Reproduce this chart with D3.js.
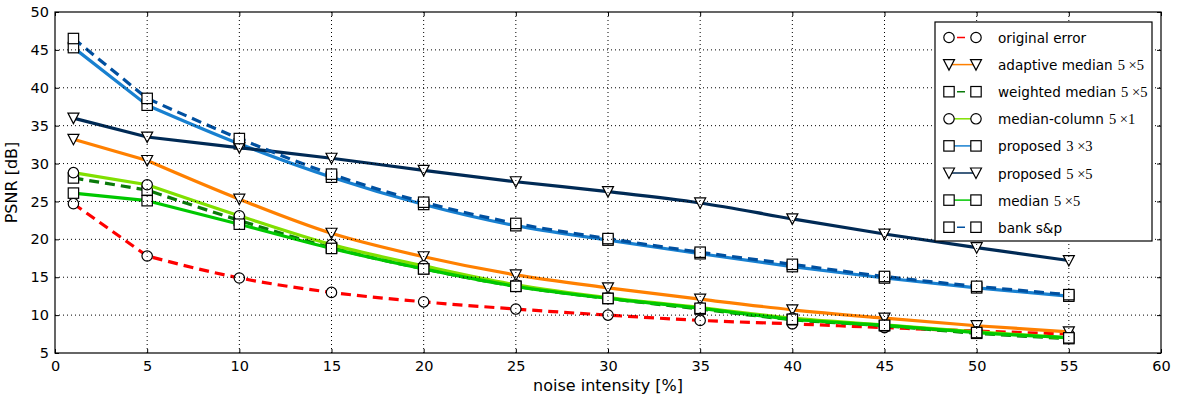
<html>
<head>
<meta charset="utf-8">
<script src="https://d3js.org/d3.v7.min.js"></script>
<style>
  body { margin: 0; background: #fff; }
  text { font-family: "DejaVu Sans", sans-serif; }
</style>
</head>
<body>
<svg id="chart" width="1178" height="399"></svg>
<script>

// noise levels where each filter was measured
var noise = [1, 5, 10, 15, 20, 25, 30, 35, 40, 45, 50, 55];

// PSNR values, one array per filter
var originalError   = [24.7, 17.8, 14.9, 13.0, 11.75, 10.8, 10.0, 9.3, 8.85, 8.35, 7.9, 7.5];
var adaptiveMedian  = [33.2, 30.4, 25.3, 20.8, 17.7, 15.3, 13.6, 12.1, 10.7, 9.6, 8.6, 7.8];
var weightedMedian  = [28.1, 26.5, 22.5, 18.9, 16.1, 13.8, 12.2, 10.8, 9.4, 8.6, 7.6, 6.9];
var medianColumn    = [28.8, 27.2, 23.1, 19.3, 16.5, 14.0, 12.3, 11.0, 9.6, 8.7, 7.8, 7.0];
var proposed3x3     = [45.3, 37.7, 32.6, 28.2, 24.6, 21.8, 19.9, 18.1, 16.4, 14.9, 13.6, 12.5];
var proposed5x5     = [36.0, 33.5, 32.1, 30.7, 29.1, 27.6, 26.3, 24.8, 22.7, 20.7, 18.9, 17.2];
var median5x5       = [26.1, 25.1, 22.0, 18.8, 16.1, 13.8, 12.2, 10.9, 9.45, 8.65, 7.7, 7.0];
var bankSP          = [46.5, 38.6, 33.3, 28.6, 24.9, 22.1, 20.1, 18.3, 16.7, 15.1, 13.8, 12.7];

var xTicks = [0, 5, 10, 15, 20, 25, 30, 35, 40, 45, 50, 55, 60];
var yTicks = [5, 10, 15, 20, 25, 30, 35, 40, 45, 50];

// series in drawing order: label, math suffix, values, style
var series = [
  {name: "original error",   mathPart: "",      values: originalError,  color: "#ff0000", dash: "10,6", marker: "circle"},
  {name: "adaptive median",  mathPart: "5 ×5",  values: adaptiveMedian, color: "#ff8000", dash: null,   marker: "tri"},
  {name: "weighted median",  mathPart: "5 ×5",  values: weightedMedian, color: "#0a7a0a", dash: "10,6", marker: "square"},
  {name: "median-column",    mathPart: "5 ×1",  values: medianColumn,   color: "#80e000", dash: null,   marker: "circle"},
  {name: "proposed",         mathPart: "3 ×3",  values: proposed3x3,    color: "#1880d0", dash: null,   marker: "square"},
  {name: "proposed",         mathPart: "5 ×5",  values: proposed5x5,    color: "#002a55", dash: null,   marker: "tri"},
  {name: "median",           mathPart: "5 ×5",  values: median5x5,      color: "#00c800", dash: null,   marker: "square"},
  {name: "bank s&p",         mathPart: "",      values: bankSP,         color: "#0050a0", dash: "10,6", marker: "square"}
];

var svg = d3.select("#chart");

// plot box edges (names avoid the window.top global)
var plotLeft = 55, plotRight = 1161, plotTop = 12, plotBottom = 353;

var x = d3.scaleLinear().domain([0, 60]).range([plotLeft, plotRight]);
var y = d3.scaleLinear().domain([5, 50]).range([plotBottom, plotTop]);

// draws one marker of a given kind centred at cx, cy
var drawMarker = function(g, kind, cx, cy) {
  if (kind === "circle") {
    g.append("circle").attr("cx", cx).attr("cy", cy).attr("r", 5.2)
      .attr("fill", "#fff").attr("stroke", "#000").attr("stroke-width", 1.2);
  } else if (kind === "square") {
    g.append("rect").attr("x", cx - 5.2).attr("y", cy - 5.2).attr("width", 10.4).attr("height", 10.4)
      .attr("fill", "#fff").attr("stroke", "#000").attr("stroke-width", 1.2);
  } else {
    g.append("path")
      .attr("d", "M" + (cx - 5.5) + "," + (cy - 5) + " L" + (cx + 5.5) + "," + (cy - 5) + " L" + cx + "," + (cy + 5.5) + " Z")
      .attr("fill", "#fff").attr("stroke", "#000").attr("stroke-width", 1.2);
  }
};

var plot = svg.append("g");

// the curve is smooth from 5 % on; the first step (1 -> 5) is a straight segment
var curveLine = d3.line()
  .x(function(d) { return x(d[0]); })
  .y(function(d) { return y(d[1]); })
  .curve(d3.curveMonotoneX);

var seriesPath = function(values) {
  var pts = values.map(function(v, i) { return [noise[i], v]; });
  var rest = curveLine(pts.slice(1));
  return "M" + x(pts[0][0]) + "," + y(pts[0][1]) + "L" + rest.slice(1);
};

series.forEach(function(s) {
  var p = plot.append("path")
    .attr("d", seriesPath(s.values))
    .attr("fill", "none")
    .attr("stroke", s.color)
    .attr("stroke-width", 3.2);
  if (s.dash) p.attr("stroke-dasharray", s.dash);
  s.values.forEach(function(v, i) {
    drawMarker(plot, s.marker, x(noise[i]), y(v));
  });
});

// grid goes on top, like the old matplotlib default
var grid = svg.append("g")
  .attr("stroke", "#000").attr("stroke-width", 1).attr("stroke-dasharray", "1,3");
xTicks.slice(1, -1).forEach(function(t) {
  grid.append("line").attr("x1", x(t)).attr("x2", x(t)).attr("y1", plotTop).attr("y2", plotBottom);
});
yTicks.slice(1, -1).forEach(function(t) {
  grid.append("line").attr("x1", plotLeft).attr("x2", plotRight).attr("y1", y(t)).attr("y2", y(t));
});

// axes with inward ticks on all four sides
var xAxisB = d3.axisBottom(x).tickValues(xTicks).tickSizeInner(-4).tickSizeOuter(0).tickPadding(8);
var xAxisT = d3.axisTop(x).tickValues(xTicks).tickSizeInner(-4).tickSizeOuter(0).tickFormat("");
var yAxisL = d3.axisLeft(y).tickValues(yTicks).tickSizeInner(-4).tickSizeOuter(0).tickPadding(6);
var yAxisR = d3.axisRight(y).tickValues(yTicks).tickSizeInner(-4).tickSizeOuter(0).tickFormat("");

var styleAxis = function(g) {
  g.select(".domain").remove();
  g.selectAll("line").attr("stroke", "#000");
  g.selectAll("text").attr("font-family", "DejaVu Sans").attr("font-size", 14.5).attr("fill", "#000");
};

svg.append("g").attr("transform", "translate(0," + plotBottom + ")").call(xAxisB).call(styleAxis);
svg.append("g").attr("transform", "translate(0," + plotTop + ")").call(xAxisT).call(styleAxis);
svg.append("g").attr("transform", "translate(" + plotLeft + ",0)").call(yAxisL).call(styleAxis);
svg.append("g").attr("transform", "translate(" + plotRight + ",0)").call(yAxisR).call(styleAxis);

svg.append("rect")
  .attr("x", plotLeft).attr("y", plotTop).attr("width", plotRight - plotLeft).attr("height", plotBottom - plotTop)
  .attr("fill", "none").attr("stroke", "#000").attr("stroke-width", 1.2);

svg.append("text")
  .attr("x", (plotLeft + plotRight) / 2).attr("y", 391)
  .attr("text-anchor", "middle").attr("font-size", 16)
  .text("noise intensity [%]");

svg.append("text")
  .attr("transform", "translate(17," + ((plotTop + plotBottom) / 2) + ") rotate(-90)")
  .attr("text-anchor", "middle").attr("font-size", 16)
  .text("PSNR [dB]");

// legend
var legend = svg.append("g");
legend.append("rect")
  .attr("x", 935).attr("y", 22).attr("width", 217).attr("height", 219)
  .attr("fill", "#fff").attr("stroke", "#000").attr("stroke-width", 1.2);

series.forEach(function(s, i) {
  var ly = 37.5 + i * 27.1;
  var l = legend.append("line")
    .attr("x1", 949).attr("x2", 976).attr("y1", ly).attr("y2", ly)
    .attr("stroke", s.color).attr("stroke-width", 1.5);
  if (s.dash) l.attr("stroke-dasharray", "0,8,8,30");
  drawMarker(legend, s.marker, 949, ly);
  drawMarker(legend, s.marker, 976, ly);
  var t = legend.append("text")
    .attr("x", 998).attr("y", ly + 5.5)
    .attr("font-size", 13.6);
  t.append("tspan").text(s.name);
  if (s.mathPart) {
    t.append("tspan").attr("font-family", "Liberation Serif").attr("font-size", 14.5).attr("dx", 5).text(s.mathPart);
  }
});

</script>
</body>
</html>
